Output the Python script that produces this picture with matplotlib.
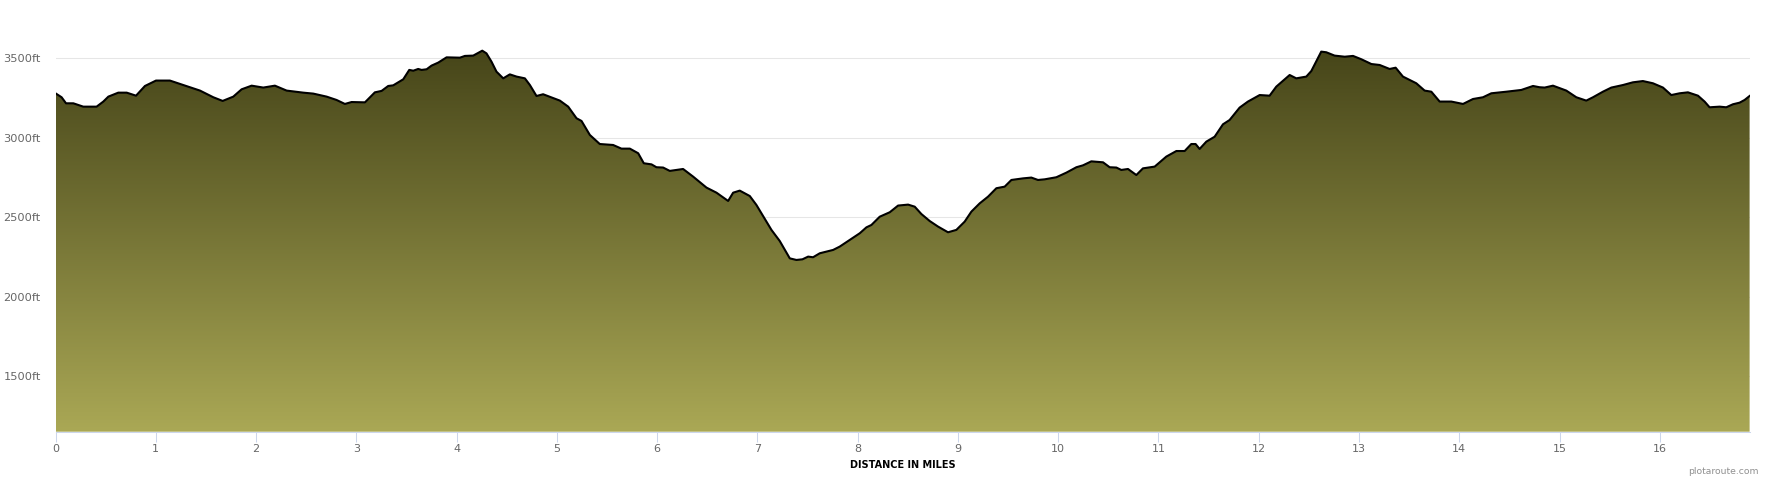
import numpy as np
import matplotlib
matplotlib.use('Agg')
import matplotlib.pyplot as plt
from matplotlib.colors import LinearSegmentedColormap

# distance along the route (miles) and elevation (ft)
miles = [0.00, 0.061, 0.105, 0.178, 0.277, 0.410, 0.477, 0.527, 0.626, 0.710,
         0.803, 0.892, 1.002, 1.141, 1.275, 1.441, 1.574, 1.667, 1.773, 1.856,
         1.956, 2.072, 2.188, 2.305, 2.471, 2.571, 2.704, 2.803, 2.886, 2.953,
         3.086, 3.185, 3.252, 3.318, 3.368, 3.468, 3.528, 3.568, 3.617, 3.651,
         3.701, 3.750, 3.817, 3.900, 4.033, 4.083, 4.166, 4.256, 4.298, 4.348,
         4.398, 4.465, 4.531, 4.598, 4.681, 4.731, 4.797, 4.863, 5.030, 5.113,
         5.196, 5.246, 5.329, 5.428, 5.561, 5.644, 5.728, 5.811, 5.867, 5.944,
         5.993, 6.060, 6.126, 6.193, 6.259, 6.359, 6.492, 6.592, 6.708, 6.758,
         6.824, 6.924, 6.990, 7.090, 7.140, 7.223, 7.323, 7.389, 7.449, 7.506,
         7.555, 7.622, 7.755, 7.821, 7.921, 8.021, 8.087, 8.137, 8.220, 8.320,
         8.403, 8.503, 8.569, 8.635, 8.718, 8.801, 8.901, 8.984, 9.067, 9.134,
         9.217, 9.300, 9.383, 9.466, 9.533, 9.649, 9.732, 9.798, 9.865, 9.981,
         10.081, 10.181, 10.247, 10.330, 10.447, 10.513, 10.580, 10.629, 10.696, 10.779,
         10.845, 10.962, 11.078, 11.178, 11.261, 11.327, 11.370, 11.410, 11.477, 11.560,
         11.643, 11.709, 11.809, 11.892, 12.009, 12.108, 12.175, 12.308, 12.374, 12.474,
         12.524, 12.623, 12.673, 12.756, 12.857, 12.940, 13.023, 13.123, 13.206, 13.305,
         13.365, 13.438, 13.571, 13.654, 13.721, 13.804, 13.920, 14.037, 14.136, 14.236,
         14.319, 14.469, 14.618, 14.735, 14.801, 14.851, 14.934, 15.067, 15.167, 15.266,
         15.333, 15.432, 15.516, 15.632, 15.731, 15.831, 15.931, 16.031, 16.114, 16.197,
         16.280, 16.380, 16.446, 16.496, 16.596, 16.662, 16.729, 16.795, 16.845, 16.895]

elev = [3280, 3255, 3217, 3217, 3196, 3196, 3228, 3259, 3284, 3284,
        3265, 3326, 3360, 3360, 3332, 3297, 3255, 3232, 3259, 3305,
        3328, 3316, 3328, 3297, 3284, 3278, 3259, 3238, 3213, 3225,
        3223, 3286, 3295, 3326, 3330, 3368, 3427, 3422, 3433, 3427,
        3431, 3454, 3473, 3506, 3504, 3515, 3517, 3548, 3531, 3479,
        3416, 3374, 3399, 3385, 3374, 3332, 3263, 3274, 3234, 3196,
        3123, 3106, 3018, 2961, 2955, 2932, 2932, 2903, 2840, 2833,
        2815, 2813, 2792, 2798, 2804, 2756, 2687, 2655, 2603, 2655,
        2668, 2634, 2578, 2473, 2421, 2351, 2242, 2232, 2236, 2253,
        2249, 2274, 2295, 2316, 2358, 2400, 2437, 2452, 2504, 2532,
        2574, 2580, 2567, 2521, 2477, 2442, 2406, 2421, 2473, 2536,
        2588, 2630, 2683, 2693, 2735, 2745, 2750, 2735, 2739, 2752,
        2781, 2815, 2827, 2852, 2846, 2815, 2813, 2798, 2804, 2766,
        2808, 2819, 2882, 2917, 2917, 2961, 2961, 2930, 2976, 3007,
        3085, 3112, 3190, 3228, 3269, 3265, 3322, 3395, 3374, 3385,
        3420, 3542, 3538, 3517, 3510, 3515, 3494, 3464, 3458, 3433,
        3441, 3385, 3343, 3297, 3290, 3228, 3228, 3213, 3244, 3255,
        3280, 3290, 3301, 3326, 3318, 3316, 3328, 3297, 3255, 3234,
        3255, 3290, 3316, 3332, 3349, 3357, 3343, 3316, 3269, 3280,
        3286, 3265, 3228, 3192, 3196, 3192, 3211, 3221, 3238, 3263]

y_ticks = [1500, 2000, 2500, 3000, 3500]
x_ticks = list(range(0, 17))

ymin, ymax = 1152, 3678
xmax = miles[-1]

fig = plt.figure(figsize=(17.7, 4.8), dpi=100)
ax = fig.add_axes([55.5 / 1770, 1 - 431.7 / 480, (1749.6 - 55.5) / 1770, (431.7 - 30) / 480])
ax.set_xlim(0, xmax)
ax.set_ylim(ymin, ymax)

# grid lines behind everything
for yt in y_ticks:
    ax.axhline(yt, color='#e6e6e6', lw=0.75, zorder=0)

# gradient fill under the profile
poly = ax.fill_between(miles, elev, ymin, color='none', lw=0, zorder=1)
cmap = LinearSegmentedColormap.from_list('olive', ['#464519', '#aaa855'])
grad = np.linspace(0, 1, 256).reshape(-1, 1)
img = ax.imshow(grad, cmap=cmap, aspect='auto', extent=[0, xmax, ymin, max(elev)],
                origin='upper', zorder=1)
img.set_clip_path(poly.get_paths()[0], transform=ax.transData)

ax.plot(miles, elev, color='black', lw=1.5, solid_joinstyle='round', zorder=3)

# axes styling
for s in ['top', 'right', 'left']:
    ax.spines[s].set_visible(False)
ax.spines['bottom'].set_color('#ccd6eb')
ax.spines['bottom'].set_linewidth(0.75)
ax.spines['bottom'].set_zorder(4)

ax.set_xticks(x_ticks)
ax.set_xticklabels([str(t) for t in x_ticks])
ax.set_yticks(y_ticks)
ax.set_yticklabels([f'{t}ft' for t in y_ticks])
ax.tick_params(axis='x', colors='#ccd6eb', length=7, width=0.75, labelcolor='#666666',
               labelsize=8.0, pad=1.5)
ax.tick_params(axis='y', length=0, labelcolor='#666666', labelsize=8.2, pad=10.7)

ax.set_xlabel('DISTANCE IN MILES', fontsize=7.0, fontweight='bold', color='black', labelpad=5)

fig.text(1759 / 1770, 1 - 472 / 480, 'plotaroute.com', ha='right', va='center',
         fontsize=6.7, color='#909090')

plt.savefig('out.png', dpi=100)
